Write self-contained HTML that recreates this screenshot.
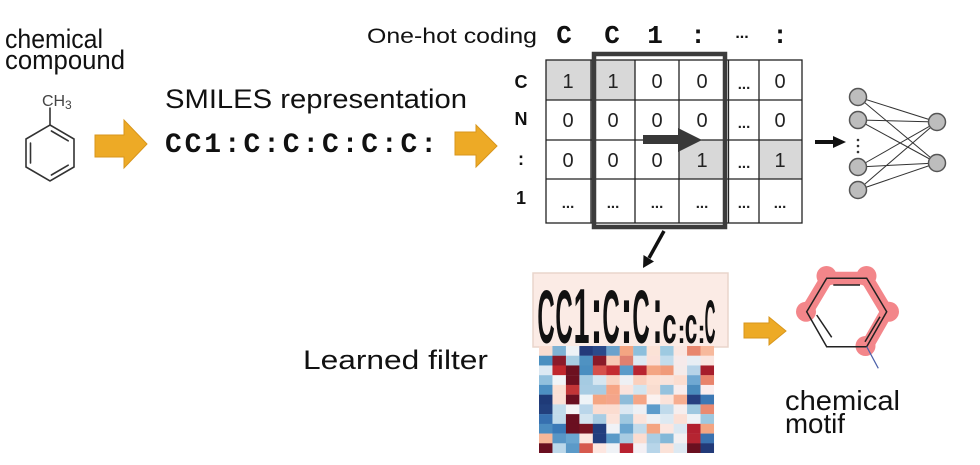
<!DOCTYPE html>
<html><head><meta charset="utf-8"><style>
html,body{margin:0;padding:0;background:#fff;}
svg{display:block;}
text{font-family:"Liberation Sans",sans-serif;}
.mono{font-family:"Liberation Mono",monospace;font-weight:bold;}
</style></head><body>
<svg width="980" height="465" viewBox="0 0 980 465" xmlns="http://www.w3.org/2000/svg">
<rect width="980" height="465" fill="#fff"/>

<!-- chemical compound -->
<text x="5" y="48" font-size="27" fill="#111" textLength="98" lengthAdjust="spacingAndGlyphs">chemical</text>
<text x="5" y="69" font-size="27" fill="#111" textLength="120" lengthAdjust="spacingAndGlyphs">compound</text>

<!-- toluene -->
<g stroke="#333" stroke-width="1.6" fill="none" stroke-linecap="round">
<polygon points="50,125 74,139 74,167 50,181 26,167 26,139"/>
<line x1="50" y1="125" x2="50" y2="108"/>
<line x1="51.4" y1="131" x2="68.2" y2="140.8"/>
<line x1="30.5" y1="143" x2="30.5" y2="163"/>
<line x1="51.4" y1="175" x2="68.2" y2="165.2"/>
</g>
<text x="42" y="106" font-size="16" fill="#444">CH</text>
<text x="65" y="109" font-size="12" fill="#444">3</text>

<!-- orange arrow 1 -->
<polygon points="95,135 124,135 124,120 147,144 124,168 124,157 95,157" fill="#EDAA26" stroke="#D8961C" stroke-width="1"/>

<!-- SMILES -->
<text x="165" y="108" font-size="27" fill="#111" textLength="302" lengthAdjust="spacingAndGlyphs">SMILES representation</text>
<text x="165" y="152" font-size="28" class="mono" fill="#111" textLength="272" lengthAdjust="spacing">CC1:C:C:C:C:C:</text>

<!-- orange arrow 2 -->
<polygon points="455,132 476,132 476,125 497,146 476,167 476,155 455,155" fill="#EDAA26" stroke="#D8961C" stroke-width="1"/>

<!-- One-hot coding -->
<text x="367" y="43" font-size="21" fill="#111" textLength="170" lengthAdjust="spacingAndGlyphs">One-hot coding</text>
<g class="mono" font-size="26" fill="#111" text-anchor="middle">
<text x="564" y="43" class="mono">C</text>
<text x="612" y="43" class="mono">C</text>
<text x="655" y="43" class="mono">1</text>
<text x="698" y="43" class="mono">:</text>
<text x="780" y="43" class="mono">:</text>
</g>
<text x="742" y="38" font-size="16" font-weight="bold" fill="#111" text-anchor="middle">...</text>

<!-- matrix shaded -->
<g fill="#d8d8d8">
<rect x="546" y="60" width="45" height="40"/>
<rect x="591" y="60" width="44" height="40"/>
<rect x="679" y="140" width="46" height="39"/>
<rect x="759" y="140" width="43" height="39"/>
</g>
<!-- grid -->
<g stroke="#222" stroke-width="1.3" fill="none">
<rect x="546" y="60" width="256" height="163"/>
<line x1="591" y1="60" x2="591" y2="223"/>
<line x1="635" y1="60" x2="635" y2="223"/>
<line x1="679" y1="60" x2="679" y2="223"/>
<line x1="728.5" y1="60" x2="728.5" y2="223"/>
<line x1="759" y1="60" x2="759" y2="223"/>
<line x1="546" y1="100" x2="802" y2="100"/>
<line x1="546" y1="140" x2="802" y2="140"/>
<line x1="546" y1="179" x2="802" y2="179"/>
</g>
<!-- row labels -->
<g font-size="18" font-weight="bold" fill="#111" text-anchor="middle">
<text x="521" y="88">C</text>
<text x="521" y="125">N</text>
<text x="521" y="165">:</text>
<text x="521" y="204">1</text>
</g>
<!-- cell contents -->
<g font-size="20" fill="#222" text-anchor="middle">
<text x="568" y="88">1</text><text x="613" y="88">1</text><text x="657" y="88">0</text><text x="702" y="88">0</text><text x="780" y="88">0</text>
<text x="568" y="127">0</text><text x="613" y="127">0</text><text x="657" y="127">0</text><text x="702" y="127">0</text><text x="780" y="127">0</text>
<text x="568" y="167">0</text><text x="613" y="167">0</text><text x="657" y="167">0</text><text x="702" y="167">1</text><text x="780" y="167">1</text>
</g>
<g font-size="15" font-weight="bold" fill="#222" text-anchor="middle">
<text x="744" y="89">...</text><text x="744" y="128">...</text><text x="744" y="168">...</text>
<text x="568" y="208">...</text><text x="613" y="208">...</text><text x="657" y="208">...</text><text x="702" y="208">...</text><text x="744" y="208">...</text><text x="780" y="208">...</text>
</g>
<!-- thick window -->
<rect x="594" y="54" width="131" height="173" fill="none" stroke="#3c3c3c" stroke-width="4.5"/>
<!-- slide arrow -->
<polygon points="643,135 678,135 678,128 702,140 678,152 678,144 643,144" fill="#383838"/>

<!-- arrow to NN -->
<polygon points="815,140 833,140 833,136 846,142 833,148 833,144 815,144" fill="#111"/>

<!-- NN -->
<g stroke="#333" stroke-width="1">
<line x1="858" y1="97" x2="937" y2="122"/><line x1="858" y1="97" x2="937" y2="163"/>
<line x1="858" y1="120" x2="937" y2="122"/><line x1="858" y1="120" x2="937" y2="163"/>
<line x1="858" y1="167" x2="937" y2="122"/><line x1="858" y1="167" x2="937" y2="163"/>
<line x1="858" y1="190" x2="937" y2="122"/><line x1="858" y1="190" x2="937" y2="163"/>
</g>
<g fill="#bdbdbd" stroke="#555" stroke-width="1.5">
<circle cx="858" cy="97" r="8.5"/><circle cx="858" cy="120" r="8.5"/>
<circle cx="858" cy="167" r="8.5"/><circle cx="858" cy="190" r="8.5"/>
<circle cx="937" cy="122" r="8.5"/><circle cx="937" cy="163" r="8.5"/>
</g>
<g fill="#333"><circle cx="858" cy="140" r="1.3"/><circle cx="858" cy="146" r="1.3"/><circle cx="858" cy="152" r="1.3"/></g>

<!-- down arrow -->
<line x1="664" y1="231" x2="649" y2="258" stroke="#111" stroke-width="3.5"/>
<polygon points="643,268 654,261.5 643.5,255" fill="#111"/>

<!-- filter box -->
<rect x="533" y="273" width="195" height="74" fill="#fbebe5" stroke="#e9d5cb" stroke-width="1.5"/>
<g font-size="30" font-weight="bold" fill="#111" text-anchor="middle">
<text transform="translate(546,343) scale(0.8,2.52)">C</text>
<text transform="translate(564,343) scale(0.8,2.52)">C</text>
<text transform="translate(581.5,343) scale(0.95,2.6)">1</text>
<text transform="translate(596.5,343) scale(1.2,2.8)">:</text>
<text transform="translate(611,343) scale(0.8,2.52)">C</text>
<text transform="translate(626.5,343) scale(1.2,2.8)">:</text>
<text transform="translate(641,343) scale(0.8,2.52)">C</text>
<text transform="translate(657.5,343) scale(1.0,2.8)">:</text>
<text transform="translate(669.5,343) scale(0.85,1.73)">c</text>
<text transform="translate(681.5,343) scale(0.8,1.15)">:</text>
<text transform="translate(691,343) scale(0.75,1.73)">c</text>
<text transform="translate(701.5,343) scale(0.8,1.15)">:</text>
<text transform="translate(710,343) scale(0.5,2.03)">C</text>
</g>

<!-- heatmap -->
<g>
<rect x="539" y="346" width="13.6" height="9.9" fill="#f8dcd0"/><rect x="552.46" y="346" width="13.6" height="9.9" fill="#7fb2d4"/><rect x="565.92" y="346" width="13.6" height="9.9" fill="#eef2f6"/><rect x="579.38" y="346" width="13.6" height="9.9" fill="#243a7a"/><rect x="592.84" y="346" width="13.6" height="9.9" fill="#2b4a8a"/><rect x="606.3" y="346" width="13.6" height="9.9" fill="#6aa2cc"/><rect x="619.76" y="346" width="13.6" height="9.9" fill="#f4a582"/><rect x="633.22" y="346" width="13.6" height="9.9" fill="#8dbfdc"/><rect x="646.68" y="346" width="13.6" height="9.9" fill="#fbe2d6"/><rect x="660.14" y="346" width="13.6" height="9.9" fill="#9ecae1"/><rect x="673.6" y="346" width="13.6" height="9.9" fill="#fae6e0"/><rect x="687.06" y="346" width="13.6" height="9.9" fill="#e8876e"/><rect x="700.52" y="346" width="13.5" height="9.9" fill="#f7b99c"/>
<rect x="539" y="355.73" width="13.6" height="9.9" fill="#4a8fc0"/><rect x="552.46" y="355.73" width="13.6" height="9.9" fill="#8b1a2a"/><rect x="565.92" y="355.73" width="13.6" height="9.9" fill="#a8cde2"/><rect x="579.38" y="355.73" width="13.6" height="9.9" fill="#4f92c2"/><rect x="592.84" y="355.73" width="13.6" height="9.9" fill="#8a1a28"/><rect x="606.3" y="355.73" width="13.6" height="9.9" fill="#f8c9b4"/><rect x="619.76" y="355.73" width="13.6" height="9.9" fill="#e08070"/><rect x="633.22" y="355.73" width="13.6" height="9.9" fill="#dde9f3"/><rect x="646.68" y="355.73" width="13.6" height="9.9" fill="#fbe0d8"/><rect x="660.14" y="355.73" width="13.6" height="9.9" fill="#c2dcec"/><rect x="673.6" y="355.73" width="13.6" height="9.9" fill="#f6eaea"/><rect x="687.06" y="355.73" width="13.6" height="9.9" fill="#e8eef4"/><rect x="700.52" y="355.73" width="13.5" height="9.9" fill="#fae6e0"/>
<rect x="539" y="365.46" width="13.6" height="9.9" fill="#dce9f3"/><rect x="552.46" y="365.46" width="13.6" height="9.9" fill="#c0272d"/><rect x="565.92" y="365.46" width="13.6" height="9.9" fill="#6d1020"/><rect x="579.38" y="365.46" width="13.6" height="9.9" fill="#4a8ec0"/><rect x="592.84" y="365.46" width="13.6" height="9.9" fill="#d6504a"/><rect x="606.3" y="365.46" width="13.6" height="9.9" fill="#c42b30"/><rect x="619.76" y="365.46" width="13.6" height="9.9" fill="#5b9bc9"/><rect x="633.22" y="365.46" width="13.6" height="9.9" fill="#b92530"/><rect x="646.68" y="365.46" width="13.6" height="9.9" fill="#f4a582"/><rect x="660.14" y="365.46" width="13.6" height="9.9" fill="#f09a7a"/><rect x="673.6" y="365.46" width="13.6" height="9.9" fill="#f4ebea"/><rect x="687.06" y="365.46" width="13.6" height="9.9" fill="#b6d3e8"/><rect x="700.52" y="365.46" width="13.5" height="9.9" fill="#a61d2b"/>
<rect x="539" y="375.19" width="13.6" height="9.9" fill="#92c0dd"/><rect x="552.46" y="375.19" width="13.6" height="9.9" fill="#f1f4f7"/><rect x="565.92" y="375.19" width="13.6" height="9.9" fill="#6d1020"/><rect x="579.38" y="375.19" width="13.6" height="9.9" fill="#a5cbe2"/><rect x="592.84" y="375.19" width="13.6" height="9.9" fill="#d6e6f1"/><rect x="606.3" y="375.19" width="13.6" height="9.9" fill="#f9d4c3"/><rect x="619.76" y="375.19" width="13.6" height="9.9" fill="#eef0f4"/><rect x="633.22" y="375.19" width="13.6" height="9.9" fill="#fbd0bd"/><rect x="646.68" y="375.19" width="13.6" height="9.9" fill="#fde0d2"/><rect x="660.14" y="375.19" width="13.6" height="9.9" fill="#f9e3db"/><rect x="673.6" y="375.19" width="13.6" height="9.9" fill="#fbddd0"/><rect x="687.06" y="375.19" width="13.6" height="9.9" fill="#6fa8d2"/><rect x="700.52" y="375.19" width="13.5" height="9.9" fill="#e9846c"/>
<rect x="539" y="384.92" width="13.6" height="9.9" fill="#4d8fc2"/><rect x="552.46" y="384.92" width="13.6" height="9.9" fill="#fbe0d4"/><rect x="565.92" y="384.92" width="13.6" height="9.9" fill="#c23537"/><rect x="579.38" y="384.92" width="13.6" height="9.9" fill="#a8cce3"/><rect x="592.84" y="384.92" width="13.6" height="9.9" fill="#a8cce3"/><rect x="606.3" y="384.92" width="13.6" height="9.9" fill="#f6a585"/><rect x="619.76" y="384.92" width="13.6" height="9.9" fill="#fbe3dc"/><rect x="633.22" y="384.92" width="13.6" height="9.9" fill="#d2e5f0"/><rect x="646.68" y="384.92" width="13.6" height="9.9" fill="#f9dccf"/><rect x="660.14" y="384.92" width="13.6" height="9.9" fill="#95c2de"/><rect x="673.6" y="384.92" width="13.6" height="9.9" fill="#f8ecec"/><rect x="687.06" y="384.92" width="13.6" height="9.9" fill="#4a8bbd"/><rect x="700.52" y="384.92" width="13.5" height="9.9" fill="#fbeeee"/>
<rect x="539" y="394.65" width="13.6" height="9.9" fill="#1f3a78"/><rect x="552.46" y="394.65" width="13.6" height="9.9" fill="#fbe0d6"/><rect x="565.92" y="394.65" width="13.6" height="9.9" fill="#6a0f20"/><rect x="579.38" y="394.65" width="13.6" height="9.9" fill="#eef3f7"/><rect x="592.84" y="394.65" width="13.6" height="9.9" fill="#f4a582"/><rect x="606.3" y="394.65" width="13.6" height="9.9" fill="#f4a58a"/><rect x="619.76" y="394.65" width="13.6" height="9.9" fill="#8ebcd9"/><rect x="633.22" y="394.65" width="13.6" height="9.9" fill="#f5a585"/><rect x="646.68" y="394.65" width="13.6" height="9.9" fill="#fbf2f0"/><rect x="660.14" y="394.65" width="13.6" height="9.9" fill="#fbe3da"/><rect x="673.6" y="394.65" width="13.6" height="9.9" fill="#f6ad90"/><rect x="687.06" y="394.65" width="13.6" height="9.9" fill="#263f80"/><rect x="700.52" y="394.65" width="13.5" height="9.9" fill="#3c78b4"/>
<rect x="539" y="404.38" width="13.6" height="9.9" fill="#22407e"/><rect x="552.46" y="404.38" width="13.6" height="9.9" fill="#c2dcec"/><rect x="565.92" y="404.38" width="13.6" height="9.9" fill="#f4f4f6"/><rect x="579.38" y="404.38" width="13.6" height="9.9" fill="#bad6ea"/><rect x="592.84" y="404.38" width="13.6" height="9.9" fill="#fbdcd0"/><rect x="606.3" y="404.38" width="13.6" height="9.9" fill="#fbdcd0"/><rect x="619.76" y="404.38" width="13.6" height="9.9" fill="#dbe8f2"/><rect x="633.22" y="404.38" width="13.6" height="9.9" fill="#eef0f4"/><rect x="646.68" y="404.38" width="13.6" height="9.9" fill="#5d9ccb"/><rect x="660.14" y="404.38" width="13.6" height="9.9" fill="#c0daeb"/><rect x="673.6" y="404.38" width="13.6" height="9.9" fill="#f6eeee"/><rect x="687.06" y="404.38" width="13.6" height="9.9" fill="#9ec8e0"/><rect x="700.52" y="404.38" width="13.5" height="9.9" fill="#ea8a70"/>
<rect x="539" y="414.11" width="13.6" height="9.9" fill="#3670b0"/><rect x="552.46" y="414.11" width="13.6" height="9.9" fill="#c2dcec"/><rect x="565.92" y="414.11" width="13.6" height="9.9" fill="#6a0f20"/><rect x="579.38" y="414.11" width="13.6" height="9.9" fill="#d4e5f0"/><rect x="592.84" y="414.11" width="13.6" height="9.9" fill="#a8cce3"/><rect x="606.3" y="414.11" width="13.6" height="9.9" fill="#fbe3da"/><rect x="619.76" y="414.11" width="13.6" height="9.9" fill="#9ec8e0"/><rect x="633.22" y="414.11" width="13.6" height="9.9" fill="#fbe4dc"/><rect x="646.68" y="414.11" width="13.6" height="9.9" fill="#eef1f4"/><rect x="660.14" y="414.11" width="13.6" height="9.9" fill="#dde9f2"/><rect x="673.6" y="414.11" width="13.6" height="9.9" fill="#fbe0d6"/><rect x="687.06" y="414.11" width="13.6" height="9.9" fill="#eef3f7"/><rect x="700.52" y="414.11" width="13.5" height="9.9" fill="#9ec8e0"/>
<rect x="539" y="423.84" width="13.6" height="9.9" fill="#4b8cc0"/><rect x="552.46" y="423.84" width="13.6" height="9.9" fill="#3a7ab8"/><rect x="565.92" y="423.84" width="13.6" height="9.9" fill="#6a0f20"/><rect x="579.38" y="423.84" width="13.6" height="9.9" fill="#7a1522"/><rect x="592.84" y="423.84" width="13.6" height="9.9" fill="#223e7e"/><rect x="606.3" y="423.84" width="13.6" height="9.9" fill="#f0f2f6"/><rect x="619.76" y="423.84" width="13.6" height="9.9" fill="#6aa6d0"/><rect x="633.22" y="423.84" width="13.6" height="9.9" fill="#c2dbeb"/><rect x="646.68" y="423.84" width="13.6" height="9.9" fill="#f4a582"/><rect x="660.14" y="423.84" width="13.6" height="9.9" fill="#fbe6e0"/><rect x="673.6" y="423.84" width="13.6" height="9.9" fill="#dbe8f2"/><rect x="687.06" y="423.84" width="13.6" height="9.9" fill="#b22030"/><rect x="700.52" y="423.84" width="13.5" height="9.9" fill="#f4a582"/>
<rect x="539" y="433.57" width="13.6" height="9.9" fill="#f7b799"/><rect x="552.46" y="433.57" width="13.6" height="9.9" fill="#5896c6"/><rect x="565.92" y="433.57" width="13.6" height="9.9" fill="#6aa6d0"/><rect x="579.38" y="433.57" width="13.6" height="9.9" fill="#fde8e0"/><rect x="592.84" y="433.57" width="13.6" height="9.9" fill="#223e7e"/><rect x="606.3" y="433.57" width="13.6" height="9.9" fill="#5a9ac8"/><rect x="619.76" y="433.57" width="13.6" height="9.9" fill="#a8cbe2"/><rect x="633.22" y="433.57" width="13.6" height="9.9" fill="#fbdcd0"/><rect x="646.68" y="433.57" width="13.6" height="9.9" fill="#aacde3"/><rect x="660.14" y="433.57" width="13.6" height="9.9" fill="#84b8d8"/><rect x="673.6" y="433.57" width="13.6" height="9.9" fill="#f3f0f2"/><rect x="687.06" y="433.57" width="13.6" height="9.9" fill="#b52431"/><rect x="700.52" y="433.57" width="13.5" height="9.9" fill="#3a72b0"/>
<rect x="539" y="443.3" width="13.6" height="9.7" fill="#6a0f20"/><rect x="552.46" y="443.3" width="13.6" height="9.7" fill="#bcd8ea"/><rect x="565.92" y="443.3" width="13.6" height="9.7" fill="#5b9ac8"/><rect x="579.38" y="443.3" width="13.6" height="9.7" fill="#d65a4e"/><rect x="592.84" y="443.3" width="13.6" height="9.7" fill="#fde6e0"/><rect x="606.3" y="443.3" width="13.6" height="9.7" fill="#eff2f6"/><rect x="619.76" y="443.3" width="13.6" height="9.7" fill="#b82230"/><rect x="633.22" y="443.3" width="13.6" height="9.7" fill="#f4f0f4"/><rect x="646.68" y="443.3" width="13.6" height="9.7" fill="#b7d5e9"/><rect x="660.14" y="443.3" width="13.6" height="9.7" fill="#fbe2d8"/><rect x="673.6" y="443.3" width="13.6" height="9.7" fill="#dde9f2"/><rect x="687.06" y="443.3" width="13.6" height="9.7" fill="#6a1020"/><rect x="700.52" y="443.3" width="13.5" height="9.7" fill="#223a78"/>
</g>

<!-- Learned filter -->
<text x="303" y="369" font-size="27" fill="#111" textLength="185" lengthAdjust="spacingAndGlyphs">Learned filter</text>

<!-- orange arrow 3 -->
<polygon points="744,323 769,323 769,317 786,331 769,345 769,338 744,338" fill="#EDAA26" stroke="#D8961C" stroke-width="1"/>

<!-- motif -->
<g fill="#f3868a">
<circle cx="826.5" cy="276" r="10"/><circle cx="866.5" cy="276" r="10"/>
<circle cx="889" cy="311.7" r="10"/><circle cx="865.5" cy="346" r="10"/>
<circle cx="806" cy="311.7" r="10"/>
</g>
<polyline points="806.7,311.7 826.7,278.3 866.7,278.3 886.7,311.7 866.7,346.7" fill="none" stroke="#f3868a" stroke-width="13" stroke-linejoin="round"/>
<g stroke="#222" stroke-width="1.5" fill="none">
<polygon points="826.7,278.3 866.7,278.3 886.7,311.7 866.7,346.7 826.7,346.7 806.7,311.7"/>
<line x1="833.3" y1="285" x2="860" y2="285"/>
<line x1="880" y1="316.7" x2="865" y2="341.7"/>
<line x1="816.7" y1="315" x2="831.7" y2="337.3"/>
</g>
<line x1="866.7" y1="346.7" x2="878.3" y2="368.3" stroke="#4a5fa8" stroke-width="1.2"/>

<text x="785" y="410" font-size="28" fill="#111" textLength="115" lengthAdjust="spacingAndGlyphs">chemical</text>
<text x="785" y="433" font-size="28" fill="#111" textLength="60" lengthAdjust="spacingAndGlyphs">motif</text>
</svg>
</body></html>
